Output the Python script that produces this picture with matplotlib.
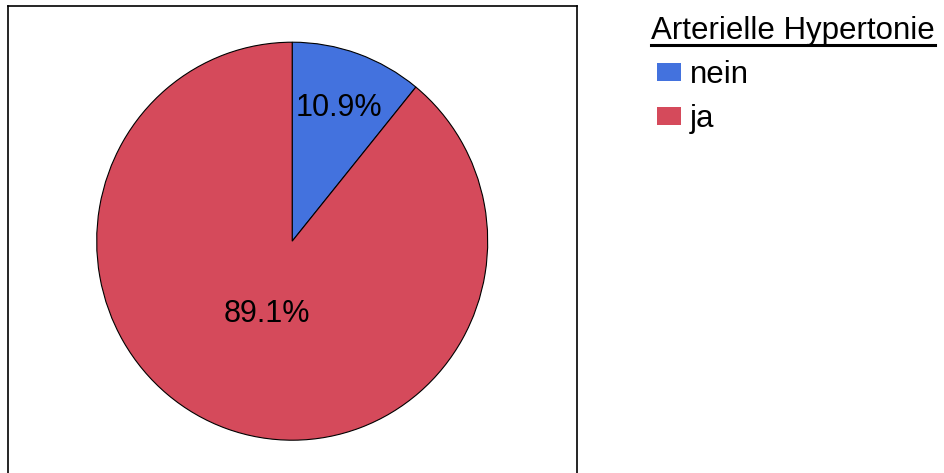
import matplotlib.pyplot as plt
from matplotlib.patches import Patch
from matplotlib.lines import Line2D
import numpy as np

plt.rcParams['font.family'] = ['Liberation Sans', 'DejaVu Sans']

# data
categories = ['nein', 'ja']
shares = [10.9, 89.1]
colors = ['#4372DE', '#D54A5B']
legend_title = 'Arterielle Hypertonie'

W, H = 945, 473
fig = plt.figure(figsize=(W / 100, H / 100), dpi=100)

# outer frame (runs off the bottom edge)
frame = fig.add_axes([8 / W, -0.1, (577 - 8) / W, (H - 6) / H + 0.1])
frame.set_xticks([])
frame.set_yticks([])
for s in frame.spines.values():
    s.set_linewidth(1.2)

# pie axes (the original pie is slightly taller than wide)
cx, cy, rx, ry = 292.2, 241.2, 195.5, 199
ax = fig.add_axes([(cx - rx) / W, (H - cy - ry) / H, 2 * rx / W, 2 * ry / H])
wedges, texts, autotexts = ax.pie(
    shares, colors=colors, startangle=90, counterclock=False,
    autopct='%1.1f%%', wedgeprops=dict(edgecolor='black', linewidth=0.8),
    textprops=dict(fontsize=22, color='black'))
ax.set_aspect('auto')
ax.set_xlim(-1, 1)
ax.set_ylim(-1, 1)

# move the percent labels to where the original places them
dists = [0.71, 0.39]
for w, t, d in zip(wedges, autotexts, dists):
    ang = np.deg2rad((w.theta1 + w.theta2) / 2)
    t.set_position((d * np.cos(ang), d * np.sin(ang)))

# legend title, underlined
fs = 22.5
title = fig.text(651 / W, 1 - 39 / H, legend_title, fontsize=fs,
                 ha='left', va='baseline')
handles = [Patch(facecolor=c, edgecolor='none') for c in colors]
leg = fig.legend(handles, categories, loc='upper left',
                 bbox_to_anchor=(657 / W, 1 - 60 / H),
                 frameon=False, fontsize=fs, borderpad=0, borderaxespad=0,
                 handlelength=0.76, handleheight=0.5,
                 handletextpad=0.3, labelspacing=0.45)

fig.canvas.draw()
bb = title.get_window_extent()
y_line = (H - 45) / H
fig.add_artist(Line2D([bb.x0 / W, bb.x1 / W], [y_line, y_line],
                      color='black', linewidth=2.2))

fig.savefig('out.png', dpi=100)
